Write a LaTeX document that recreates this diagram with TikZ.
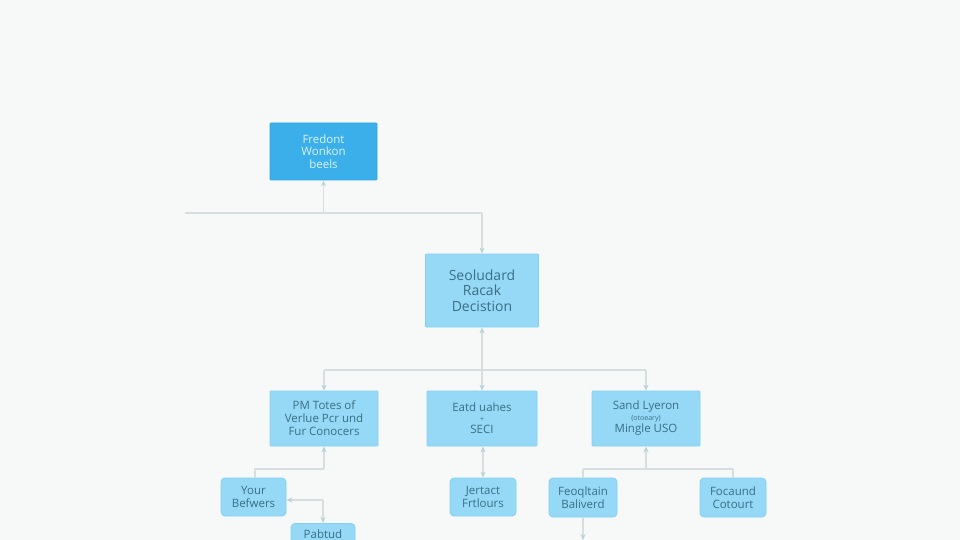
\documentclass[tikz,border=0pt]{standalone}
\usepackage{fontspec}
\setmainfont{Open Sans}
\usetikzlibrary{arrows.meta}
\definecolor{bg}{HTML}{F7F8F8}
\definecolor{topfill}{HTML}{3AAFEA}
\definecolor{topdraw}{HTML}{34A6E2}
\definecolor{topText}{HTML}{DDF2FF}
\definecolor{boxfill}{HTML}{95D9F6}
\definecolor{boxdraw}{HTML}{84D0F2}
\definecolor{boxText}{HTML}{3A6E86}
\definecolor{lineC}{HTML}{D6DEE0}
\definecolor{tipC}{HTML}{B8D4D6}
\tikzset{
  x=1pt,y=-1pt,
  topbox/.style={draw=topdraw,fill=topfill,line width=0.8pt,text=topText,
    font=\fontsize{11.5}{12.5}\selectfont,align=center,inner sep=0pt,rounded corners=1pt},
  decbox/.style={draw=boxdraw,fill=boxfill,line width=0.8pt,text=boxText,
    font=\fontsize{14}{15.5}\selectfont,align=center,inner sep=0pt,rounded corners=1pt},
  cbox/.style={draw=boxdraw,fill=boxfill,line width=0.8pt,text=boxText,
    font=\fontsize{11.5}{13}\selectfont,align=center,inner sep=0pt,rounded corners=1pt},
  sbox/.style={draw=boxdraw,fill=boxfill,line width=0.8pt,text=boxText,
    font=\fontsize{11.5}{13}\selectfont,align=center,inner sep=0pt,rounded corners=4pt},
  conn/.style={draw=lineC,line width=1.1pt},
  tipend/.style={-{Stealth[length=6pt,width=5pt,color=tipC]}},
  tipboth/.style={{Stealth[length=6pt,width=5pt,color=tipC]}-{Stealth[length=6pt,width=5pt,color=tipC]}},
}
\begin{document}
\begin{tikzpicture}
\useasboundingbox[fill=bg] (0,0) rectangle (960,540);
% nodes
\node[topbox,minimum width=107pt,minimum height=57pt] (top) at (323.5,151.5) {Fredont\\Wonkon\\beels};
\node[decbox,minimum width=113pt,minimum height=73pt] (dec) at (482,290.5) {Seoludard\\Racak\\Decistion};
\node[cbox,minimum width=108pt,minimum height=55pt] (m1) at (324,418.5) {PM Totes of\\Verlue Pcr und\\Fur Conocers};
\node[cbox,minimum width=110pt,minimum height=55pt] (m2) at (482,418.5) {Eatd uahes\\[-3pt]{\fontsize{7}{7}\selectfont +}\\[-1pt]SECI};
\node[cbox,minimum width=108pt,minimum height=55pt] (m3) at (646,418.5) {Sand Lyeron\\[-2pt]{\fontsize{7}{8}\selectfont (otoeary)}\\[-1pt]Mingle USO};
\node[sbox,minimum width=65pt,minimum height=38pt] (yb) at (253.5,497) {Your\\Befwers};
\node[sbox,minimum width=64pt,minimum height=24pt,anchor=north] (pb) at (323,523) {\raisebox{3pt}{Pabtud}};
\node[sbox,minimum width=66pt,minimum height=38pt] (jf) at (483,497) {Jertact\\Frtlours};
\node[sbox,minimum width=68pt,minimum height=39pt] (fb) at (583,497.5) {Feoqltain\\Baliverd};
\node[sbox,minimum width=66pt,minimum height=39pt] (fc) at (733,497.5) {Focaund\\Cotourt};
% coordinates
\coordinate (lend) at (185,213);
\coordinate (j1) at (323.5,213);
\coordinate (j2) at (482,213);
\coordinate (k0) at (482,370);
\coordinate (k1) at (324,370);
\coordinate (k3) at (646,370);
\coordinate (l1) at (324,469);
\coordinate (l2) at (255,469);
\coordinate (p1) at (323,500);
\coordinate (r0) at (646,469);
\coordinate (r1) at (583,469);
\coordinate (r2) at (733,469);
\coordinate (bend) at (583,540);
% connectors
\draw[conn] (lend) -- (j2);
\draw[conn,tipend] (j1) -- (top.south);
\draw[conn,tipend] (j2) -- (dec.north);
\draw[conn,tipend] (k0) -- (dec.south);
\draw[conn] (k1) -- (k3);
\draw[conn,tipend] (k1) -- (m1.north);
\draw[conn,tipend] (k0) -- (m2.north);
\draw[conn,tipend] (k3) -- (m3.north);
\draw[conn,tipend] (l1) -- (m1.south);
\draw[conn] (l1) -- (l2) -- (yb.north -| l2);
\draw[conn,tipend] (p1) -- (p1 -| yb.east);
\draw[conn,tipend] (p1) -- (pb.north);
\draw[conn,tipboth] (m2.south -| jf.north) -- (jf.north);
\draw[conn,tipend] (r0) -- (m3.south);
\draw[conn] (r1) -- (r2);
\draw[conn] (r1) -- (fb.north);
\draw[conn] (r2) -- (fc.north);
\draw[conn,tipend] (fb.south) -- (bend);
\end{tikzpicture}
\end{document}
